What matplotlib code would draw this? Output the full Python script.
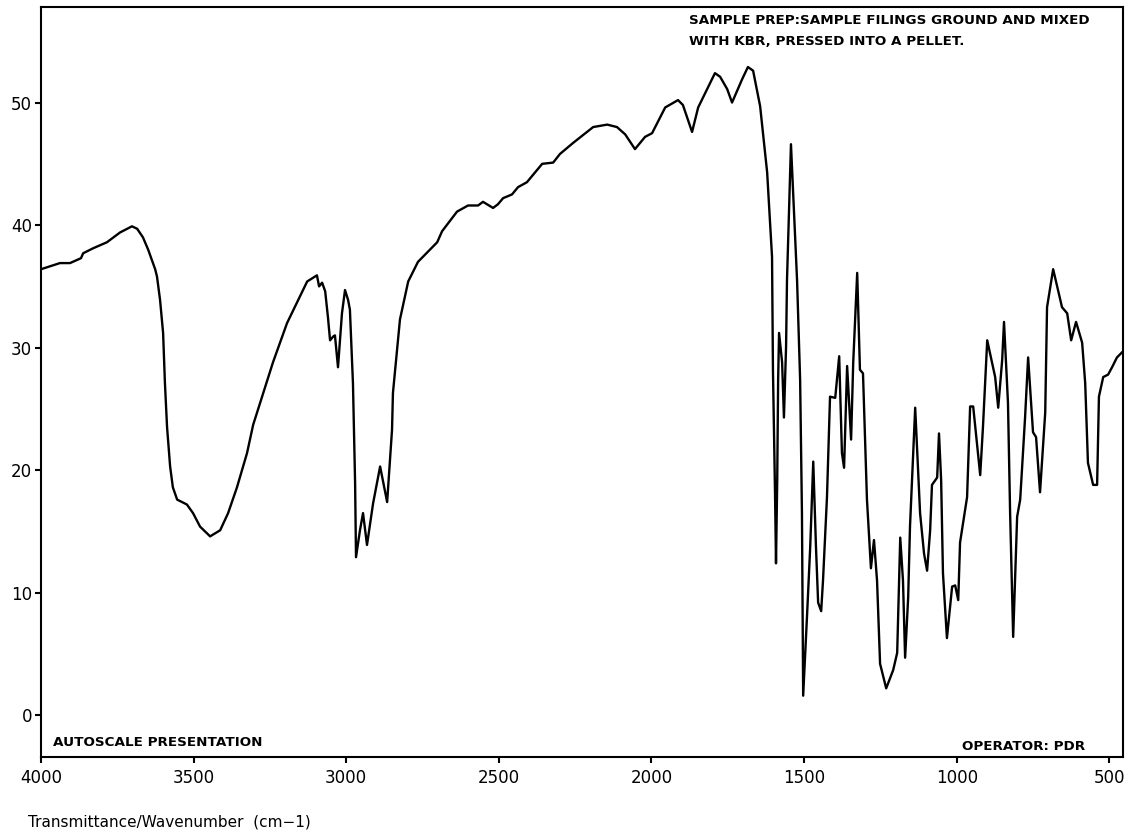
import matplotlib
matplotlib.use('Agg')
import matplotlib.pyplot as plt

# IR spectrum, KBr pellet: wavenumber (cm-1) vs transmittance (%)
wavenumber = [
    4000, 3938, 3905, 3869, 3862, 3830, 3784, 3741, 3702, 3685,
    3666, 3649, 3626, 3620, 3610, 3600, 3594, 3587, 3577, 3568,
    3554, 3522, 3502, 3479, 3446, 3413, 3387, 3358, 3325, 3305,
    3240, 3194, 3161, 3128, 3102, 3096, 3089, 3079, 3069, 3060,
    3053, 3043, 3037, 3027, 3014, 3004, 2994, 2988, 2978, 2971,
    2968, 2955, 2945, 2932, 2912, 2889, 2866, 2850, 2847, 2824,
    2797, 2765, 2702, 2686, 2637, 2601, 2568, 2552, 2519, 2503,
    2486, 2457, 2437, 2408, 2358, 2322, 2300, 2257, 2191, 2145,
    2113, 2086, 2054, 2021, 1998, 1955, 1913, 1897, 1867, 1847,
    1792, 1775, 1752, 1736, 1703, 1684, 1667, 1644, 1621, 1605,
    1602, 1595, 1592, 1588, 1585, 1582, 1572, 1566, 1559, 1556,
    1543, 1523, 1513, 1507, 1503, 1490, 1480, 1470, 1461, 1454,
    1444, 1438, 1425, 1415, 1398, 1385, 1376, 1369, 1359, 1346,
    1339, 1326, 1317, 1307, 1294, 1281, 1271, 1261, 1251, 1231,
    1208, 1195, 1185, 1176, 1169, 1159, 1153, 1136, 1120, 1107,
    1097, 1087, 1081, 1064, 1058, 1051, 1045, 1032, 1015, 1005,
    995, 989, 966, 956, 946, 923, 914, 900, 874, 864,
    851, 845, 832, 825, 815, 802, 792, 776, 766, 750,
    740, 727, 710, 704, 684, 668, 655, 638, 625, 609,
    589, 579, 570, 553, 540, 534, 520, 504, 491, 475,
    455,
]
transmittance = [
    36.4, 36.9, 36.9, 37.3, 37.7, 38.1, 38.6, 39.4, 39.9, 39.7,
    39.0, 38.0, 36.4, 35.8, 33.9, 31.2, 27.1, 23.5, 20.3, 18.6,
    17.6, 17.2, 16.5, 15.4, 14.6, 15.1, 16.5, 18.6, 21.4, 23.7,
    28.8, 32.0, 33.7, 35.4, 35.8, 35.9, 35.0, 35.3, 34.6, 32.5,
    30.6, 30.9, 31.0, 28.4, 32.8, 34.7, 33.9, 33.1, 27.1, 19.0,
    12.9, 15.1, 16.5, 13.9, 17.3, 20.3, 17.4, 23.3, 26.3, 32.3,
    35.4, 37.0, 38.6, 39.5, 41.1, 41.6, 41.6, 41.9, 41.4, 41.7,
    42.2, 42.5, 43.1, 43.5, 45.0, 45.1, 45.8, 46.7, 48.0, 48.2,
    48.0, 47.4, 46.2, 47.2, 47.5, 49.6, 50.2, 49.8, 47.6, 49.6,
    52.4, 52.1, 51.1, 50.0, 51.9, 52.9, 52.6, 49.7, 44.3, 37.4,
    28.2, 17.8, 12.4, 19.2, 27.4, 31.2, 28.8, 24.3, 30.1, 35.5,
    46.6, 35.5, 27.4, 16.5, 1.6, 8.3, 13.7, 20.7, 13.7, 9.2,
    8.5, 11.0, 17.8, 26.0, 25.9, 29.3, 21.4, 20.2, 28.5, 22.5,
    28.8, 36.1, 28.2, 27.9, 17.6, 12.0, 14.3, 11.0, 4.2, 2.2,
    3.7, 5.1, 14.5, 11.0, 4.7, 9.6, 15.4, 25.1, 16.5, 13.2,
    11.8, 15.1, 18.8, 19.4, 23.0, 19.2, 11.6, 6.3, 10.5, 10.6,
    9.4, 14.1, 17.8, 25.2, 25.2, 19.6, 23.5, 30.6, 27.6, 25.1,
    29.0, 32.1, 25.5, 16.5, 6.4, 16.2, 17.6, 24.3, 29.2, 23.1,
    22.7, 18.2, 24.7, 33.3, 36.4, 34.7, 33.3, 32.8, 30.6, 32.1,
    30.4, 27.1, 20.6, 18.8, 18.8, 26.0, 27.6, 27.8, 28.4, 29.2,
    29.7,
]

x_ticks = [4000, 3500, 3000, 2500, 2000, 1500, 1000, 500]
y_ticks = [0, 10, 20, 30, 40, 50]

fig = plt.figure(figsize=(11.36, 8.38), dpi=100)
fig.patch.set_facecolor('white')
ax = fig.add_axes([0.0361, 0.0967, 0.9525, 0.8950])

ax.plot(wavenumber, transmittance, color='black', lw=1.7, solid_joinstyle='round')

ax.set_xlim(4000, 455)
ax.set_ylim(-3.4, 57.8)
ax.set_xticks(x_ticks)
ax.set_yticks(y_ticks)
ax.tick_params(axis='both', direction='out', length=4.5, width=1.5,
               labelsize=12, colors='black')
ax.tick_params(axis='x', pad=4)
ax.tick_params(axis='y', pad=2)
for s in ax.spines.values():
    s.set_linewidth(1.5)
    s.set_color('black')

# instrument annotations
note = dict(fontsize=9.7, fontweight='bold', ha='left', va='center')
fig.text(0.0467, 0.1134, "AUTOSCALE PRESENTATION", **note)
fig.text(0.8468, 0.1086, "OPERATOR: PDR", **note)
fig.text(0.6065, 0.9761, "SAMPLE PREP:SAMPLE FILINGS GROUND AND MIXED", **note)
fig.text(0.6065, 0.9499, "WITH KBR, PRESSED INTO A PELLET.", **note)
fig.text(0.0246, 0.0191, "Transmittance/Wavenumber  (cm\u22121)", fontsize=11,
         ha='left', va='center')

fig.savefig('out.png', dpi=100, facecolor='white')
plt.close(fig)
